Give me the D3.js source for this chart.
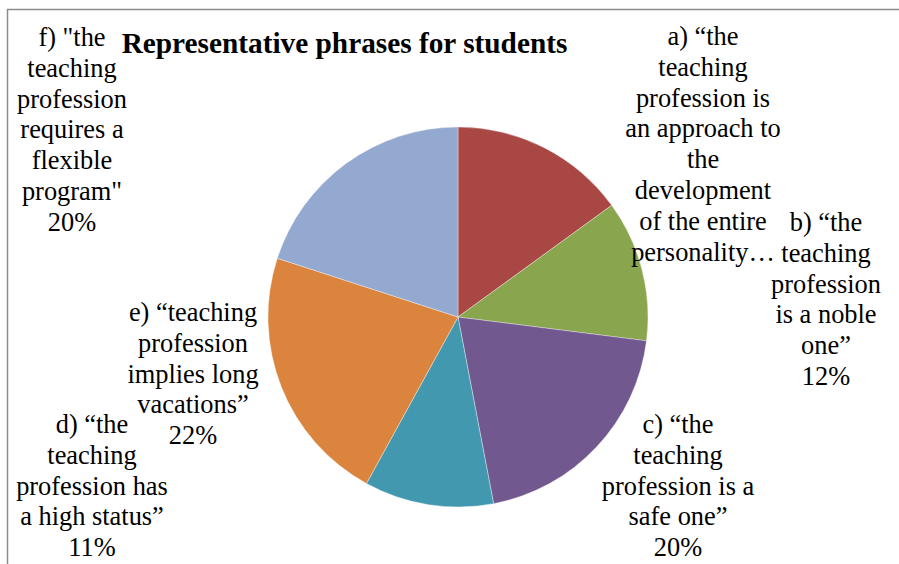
<!DOCTYPE html>
<html><head><meta charset="utf-8">
<script src="https://cdn.jsdelivr.net/npm/d3@7/dist/d3.min.js"></script>
<style>body{margin:0;background:#fff}svg{display:block}</style>
</head><body>
<script>
const categories = ["a","b","c","d","e","f"];
const values = [15, 12, 20, 11, 22, 20];
const percentLabels = ["15%","12%","20%","11%","22%","20%"];
const labelLines = [
  ["a) \u201cthe","teaching","profession is","an approach to","the","development","of the entire","personality\u2026"],
  ["b) \u201cthe","teaching","profession","is a noble","one\u201d","12%"],
  ["c) \u201cthe","teaching","profession is a","safe one\u201d","20%"],
  ["d) \u201cthe","teaching","profession has","a high status\u201d","11%"],
  ["e) \u201cteaching","profession","implies long","vacations\u201d","22%"],
  ["f) \"the","teaching","profession","requires a","flexible","program\"","20%"]
];
const colors = ["#A94745","#89A54E","#71588F","#4198AF","#DB843D","#93A9CF"];
const title = "Representative phrases for students";

const W = 899, H = 564;
const cx = 458, cy = 317, R = 190;
const FONT = "Liberation Serif, Times New Roman, serif";
// label anchor (center x, baseline of first line)
const labelAnchor = [[703,45],[826,231],[678,433],[92,433],[193,321],[72,46]];
const lineH = 30.8;

const svg = d3.select("body").append("svg").attr("width", W).attr("height", H);
svg.append("path").attr("d", `M7.5,${H}V9.5H${W}`).attr("fill","none").attr("stroke","#8c8c8c").attr("stroke-width",1.5);

const pie = d3.pie().sort(null).value(d => d)(values);
const arc = d3.arc().innerRadius(0).outerRadius(R);
const g = svg.append("g").attr("transform", `translate(${cx},${cy})`);
g.selectAll("path").data(pie).join("path")
  .attr("d", arc).attr("fill", (d,i) => colors[i])
  .attr("stroke", "#ffffff").attr("stroke-width", 0.6).attr("stroke-opacity", 0.6);

svg.append("text").attr("x", 344.5).attr("y", 53).attr("text-anchor","middle")
  .attr("font-family", FONT).attr("font-weight","bold")
  .attr("font-size", 29.3).attr("fill","#000").text(title);

labelLines.forEach((lines, i) => {
  const t = svg.append("text").attr("text-anchor","middle")
    .attr("font-family", FONT).attr("font-size", 26.4).attr("fill","#000");
  lines.forEach((ln, k) => {
    t.append("tspan").attr("x", labelAnchor[i][0]).attr("y", labelAnchor[i][1] + k*lineH).text(ln);
  });
});
</script>
</body></html>
